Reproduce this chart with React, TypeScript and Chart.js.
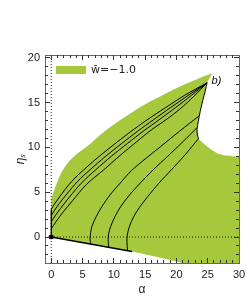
import React, { useEffect, useRef } from "react";
import { Chart, registerables } from "chart.js";

Chart.register(...registerables);

// ---- axes ----
const X_MIN = -1;
const X_MAX = 30;
const Y_MIN = -2.9;
const Y_MAX = 20.3;
const xMajorTicks = [0, 5, 10, 15, 20, 25, 30];
const yMajorTicks = [0, 5, 10, 15, 20];
const xMinorTicks = Array.from({ length: 31 }, (_, i) => i);
const yMinorTicks = Array.from({ length: 23 }, (_, i) => i - 2);
const xTitle = "α";
const yTitle = "ηₛ";

// ---- legend / annotation ----
const legendLabel = "w̄=−1.0";
const annotText = "b)";
const annotPos = [26.4, 17.4];

// ---- allowed region (green), closed outline ----
const regionOutline: number[][] = [
  [0, 0], [0, 4.2], [0.15, 4.6], [0.5, 5.3], [1, 6.2], [1.7, 7.3], [2.8, 8.4],
  [4.2, 9.3], [5.9, 10.2], [8, 11.5], [10.5, 12.8], [13, 13.95], [15.5, 15.0],
  [18, 15.9], [20.5, 16.75], [23, 17.5], [25.6, 18.2],
  [25.3, 17.7], [24.9, 17.2], [24.6, 16.3], [24.2, 15.2], [23.8, 14.0],
  [23.5, 12.9], [23.3, 12.0], [23.35, 11.4], [23.55, 10.95], [23.9, 10.7],
  [24.9, 10.1], [26.5, 9.35], [28, 9.1], [30, 8.98], [31, 8.97], [31, -4],
  [28, -4], [22, -3.05], [20, -2.72], [16, -2.1], [12.9, -1.62], [0, 0],
];

// ---- trajectories from the eta axis to the tip ----
const curveA1: number[][] = [
  [0, 3.1], [0.5, 3.65], [1.2, 4.35], [2.2, 5.3], [3.6, 6.45], [5.2, 7.5],
  [7.5, 8.9], [10, 10.3], [12.6, 11.7], [15.3, 13.06], [18.2, 14.4],
  [21.3, 15.8], [24.9, 17.2],
];
const curveA2: number[][] = [
  [0, 2.4], [0.5, 2.95], [1.3, 3.75], [2.5, 4.8], [4.2, 6.2], [6.2, 7.5],
  [8.6, 8.95], [11.2, 10.4], [13.8, 11.8], [16.3, 13.06], [19.1, 14.45],
  [22, 15.85], [24.9, 17.2],
];
const curveA3: number[][] = [
  [0, 1.7], [0.6, 2.35], [1.5, 3.2], [2.9, 4.45], [4.8, 6.0], [7.1, 7.5],
  [9.6, 9.0], [12.2, 10.45], [14.8, 11.85], [17.2, 13.06], [19.8, 14.4],
  [22.4, 15.8], [24.9, 17.2],
];
const curveA4: number[][] = [
  [0, 0.9], [0.7, 1.65], [1.8, 2.7], [3.4, 4.05], [5.6, 5.85], [8.4, 7.5],
  [11, 9.1], [13.6, 10.6], [16, 11.95], [18.3, 13.06], [20.6, 14.3],
  [22.8, 15.7], [24.9, 17.2],
];

// ---- trajectories from the lower edge to the cusp ----
const curveC1: number[][] = [
  [6.3, -0.8], [6.2, -0.2], [6.3, 0.5], [6.5, 1.2], [7.2, 2.3], [8.1, 3.4],
  [9.4, 4.7], [11, 6.0], [12.8, 7.4], [15, 8.7], [17.5, 10.1], [20.5, 11.8],
  [23.6, 13.5],
];
const curveC2: number[][] = [
  [9.2, -1.16], [9.1, -0.5], [9.15, 0.3], [9.5, 1.2], [10.2, 2.3], [11.1, 3.4],
  [12.4, 4.6], [14.2, 6.0], [16.3, 7.5], [18.6, 9.0], [21, 10.6], [23.3, 12.2],
];
const curveC3: number[][] = [
  [12.2, -1.53], [12.1, -0.6], [12.15, 0.2], [12.5, 1.2], [13.2, 2.3],
  [14.1, 3.3], [15.4, 4.5], [17.2, 6.0], [19.2, 7.5], [21.3, 9.1], [23.5, 10.95],
];
const cuspCurve: number[][] = [
  [24.9, 17.2], [24.6, 16.3], [24.2, 15.2], [23.8, 14.0], [23.5, 12.9],
  [23.3, 12.0], [23.35, 11.4], [23.55, 10.95],
];
const lowerEdge: number[][] = [[0, 0], [12.9, -1.62]];
const axisSegment: number[][] = [[0, 0], [0, 3.1]];
const zeroPoint: number[][] = [[0, 0]];
const hRef: number[][] = [[X_MIN, 0], [X_MAX, 0]];
const vRef: number[][] = [[0, Y_MIN], [0, Y_MAX]];

const GREEN = "#a5c83c";
const FONT = '"Liberation Sans", Arial, sans-serif';

const pts = (a: number[][]) => a.map(([x, y]) => ({ x, y }));

const blackLine = (data: number[][], width = 1) => ({
  data: pts(data),
  showLine: true,
  borderColor: "#000",
  borderWidth: width,
  pointRadius: 0,
  fill: false,
  tension: 0.3,
  order: 1,
});

const overlayPlugin = {
  id: "overlay",
  afterDatasetsDraw(chart: any) {
    const { ctx, scales, chartArea } = chart;
    ctx.save();
    // annotation
    ctx.font = `italic 11px ${FONT}`;
    ctx.fillStyle = "#111";
    ctx.textAlign = "center";
    ctx.textBaseline = "middle";
    ctx.fillText(
      annotText,
      scales.x.getPixelForValue(annotPos[0]),
      scales.y.getPixelForValue(annotPos[1])
    );
    // legend inside plot area
    const ds = chart.data.datasets[0];
    const bx = chartArea.left + 11;
    const by = chartArea.top + 11;
    ctx.fillStyle = ds.backgroundColor;
    ctx.fillRect(bx, by, 30, 8);
    ctx.fillStyle = "#222";
    ctx.textAlign = "left";
    ctx.font = `11px "DejaVu Sans", sans-serif`;
    ctx.fillText(ds.label, bx + 35, by + 4.5);
    ctx.restore();
  },
};

const setTicks = (vals: number[]) => (s: any) => {
  s.ticks = vals.map((v) => ({ value: v }));
};

const fitTo = (isX: boolean, size: number) => (s: any) => {
  if (isX) s.height = size;
  else s.width = size;
  s.paddingLeft = 0;
  s.paddingRight = 0;
  s.paddingTop = 0;
  s.paddingBottom = 0;
};

const minorAxis = (pos: string, vals: number[], isX: boolean) => ({
  type: "linear",
  position: pos,
  min: isX ? X_MIN : Y_MIN,
  max: isX ? X_MAX : Y_MAX,
  weight: 0,
  afterBuildTicks: setTicks(vals),
  afterFit: fitTo(isX, 0),
  grid: { drawOnChartArea: false, drawTicks: true, tickLength: -3, tickColor: "#333", tickWidth: 1, z: 1 },
  border: { display: false },
  ticks: { display: false },
});

const majorHidden = (pos: string, vals: number[], isX: boolean) => ({
  type: "linear",
  position: pos,
  min: isX ? X_MIN : Y_MIN,
  max: isX ? X_MAX : Y_MAX,
  weight: 1,
  afterBuildTicks: setTicks(vals),
  afterFit: fitTo(isX, 0),
  grid: { drawOnChartArea: false, drawTicks: true, tickLength: -5, tickColor: "#333", tickWidth: 1, z: 1 },
  border: { display: true, color: "#666", width: 1, z: 1 },
  ticks: { display: false },
});

export default function App() {
  const ref = useRef<HTMLCanvasElement | null>(null);

  useEffect(() => {
    if (!ref.current) return;
    const chart = new Chart(ref.current, {
      type: "scatter",
      data: {
        datasets: [
          {
            label: legendLabel,
            data: pts(regionOutline),
            showLine: true,
            borderWidth: 0,
            borderColor: GREEN,
            backgroundColor: GREEN,
            pointRadius: 0,
            fill: "shape",
            tension: 0.3,
            order: 10,
          } as any,
          {
            data: pts(hRef),
            showLine: true,
            borderColor: "#222",
            borderWidth: 1,
            borderDash: [1, 2],
            pointRadius: 0,
            fill: false,
            order: 2,
          },
          {
            data: pts(vRef),
            showLine: true,
            borderColor: "#222",
            borderWidth: 1,
            borderDash: [1, 2],
            pointRadius: 0,
            fill: false,
            order: 2,
          },
          blackLine(curveA1),
          blackLine(curveA2),
          blackLine(curveA3),
          blackLine(curveA4),
          blackLine(curveC1),
          blackLine(curveC2),
          blackLine(curveC3),
          blackLine(cuspCurve),
          blackLine(lowerEdge, 1.6),
          blackLine(axisSegment, 1.3),
          {
            data: pts(zeroPoint),
            showLine: false,
            pointStyle: "rect",
            pointRadius: 3,
            backgroundColor: "#000",
            borderColor: "#000",
            borderWidth: 0,
            order: 0,
          },
        ],
      },
      options: {
        animation: false,
        responsive: false,
        devicePixelRatio: 1,
        layout: { padding: { left: 0, top: 55, right: 7, bottom: 0 } },
        plugins: {
          legend: { display: false },
          tooltip: { enabled: false },
        },
        scales: {
          x: {
            type: "linear",
            position: "bottom",
            min: X_MIN,
            max: X_MAX,
            weight: 1,
            afterBuildTicks: setTicks(xMajorTicks),
            afterFit: fitTo(true, 44),
            grid: { drawOnChartArea: false, drawTicks: true, tickLength: -5, tickColor: "#333", tickWidth: 1, z: 1 },
            border: { display: true, color: "#666", width: 1, z: 1 },
            ticks: { padding: 10, color: "#222", font: { size: 11, family: FONT }, maxRotation: 0, autoSkip: false },
            title: { display: true, text: xTitle, color: "#222", font: { size: 12, family: FONT }, padding: { top: 0, bottom: 10 } },
          },
          xMinor: minorAxis("bottom", xMinorTicks, true),
          xTop: majorHidden("top", xMajorTicks, true),
          xTopMinor: minorAxis("top", xMinorTicks, true),
          y: {
            type: "linear",
            position: "left",
            min: Y_MIN,
            max: Y_MAX,
            weight: 1,
            afterBuildTicks: setTicks(yMajorTicks),
            afterFit: fitTo(false, 45),
            grid: { drawOnChartArea: false, drawTicks: true, tickLength: -5, tickColor: "#333", tickWidth: 1, z: 1 },
            border: { display: true, color: "#666", width: 1, z: 1 },
            ticks: { padding: 10, color: "#222", font: { size: 11, family: FONT } },
            title: { display: true, text: yTitle, color: "#222", font: { size: 12, family: FONT, style: "italic" }, padding: { top: 13, bottom: 0 } },
          },
          yMinor: minorAxis("left", yMinorTicks, false),
          yRight: majorHidden("right", yMajorTicks, false),
          yRightMinor: minorAxis("right", yMinorTicks, false),
        } as any,
      },
      plugins: [overlayPlugin],
    } as any);
    return () => chart.destroy();
  }, []);

  return (
    <div style={{ position: "fixed", left: 0, top: 0, width: 246, height: 307, background: "#fff" }}>
      <canvas ref={ref} width={246} height={307} style={{ display: "block", width: 246, height: 307 }} />
    </div>
  );
}
